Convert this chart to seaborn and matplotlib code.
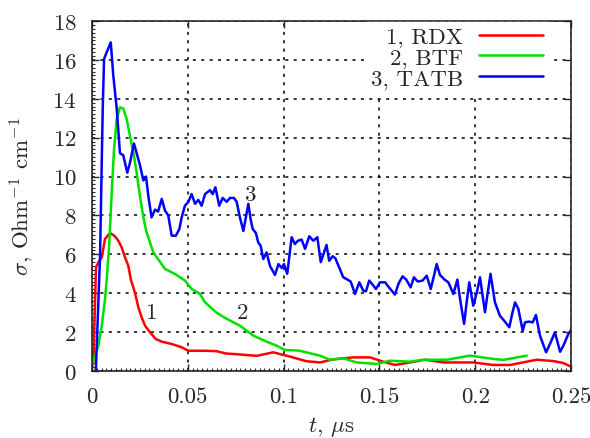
import numpy as np
import pandas as pd
import matplotlib
matplotlib.use("Agg")
import matplotlib.pyplot as plt
import seaborn as sns
from matplotlib.lines import Line2D

# ---- data ----
rdx_t = [0, 0.0007, 0.0021, 0.0033, 0.0051, 0.0068, 0.0094, 0.012, 0.0137, 0.0155, 0.0172, 0.0189,
         0.0204, 0.0216, 0.0228, 0.0242, 0.0259, 0.0277, 0.0303, 0.0332, 0.0364, 0.0416, 0.0468,
         0.0503, 0.059, 0.065, 0.07, 0.0772, 0.086, 0.0946, 0.103, 0.112, 0.119, 0.126, 0.1364,
         0.1451, 0.152, 0.1581, 0.166, 0.1738, 0.1834, 0.199, 0.2095, 0.2182, 0.2321, 0.2408,
         0.246, 0.25]
rdx_s = [0.2, 0.44, 5.33, 5.59, 5.85, 6.79, 7.1, 6.93, 6.7, 6.36, 5.85, 5.42, 4.65, 4.3, 3.87,
         3.27, 2.76, 2.33, 1.99, 1.65, 1.51, 1.39, 1.22, 1.04, 1.04, 1.02, 0.9, 0.85, 0.78, 0.96,
         0.75, 0.5, 0.44, 0.6, 0.7, 0.7, 0.48, 0.31, 0.44, 0.58, 0.44, 0.44, 0.31, 0.31, 0.58,
         0.51, 0.41, 0.22]

btf_t = [0, 0.0033, 0.0051, 0.0068, 0.0077, 0.009, 0.0103, 0.0115, 0.0129, 0.0146, 0.0163,
         0.0181, 0.0198, 0.0216, 0.0233, 0.025, 0.0268, 0.0285, 0.032, 0.0381, 0.0433, 0.0485,
         0.052, 0.0564, 0.059, 0.065, 0.07, 0.0772, 0.0842, 0.0911, 0.0964, 0.1007, 0.108, 0.119,
         0.1242, 0.1312, 0.1381, 0.1486, 0.1555, 0.166, 0.1729, 0.1851, 0.1973, 0.2095, 0.2147,
         0.2269]
btf_s = [0.3, 1.3, 2.33, 3.7, 4.73, 6.5, 9.2, 11.4, 12.96, 13.56, 13.5, 12.96, 12.1, 11.25, 10.2,
         9.0, 7.9, 7.13, 6.1, 5.25, 4.99, 4.65, 4.22, 3.96, 3.53, 3.0, 2.7, 2.33, 1.82, 1.51, 1.3,
         1.08, 1.05, 0.79, 0.58, 0.65, 0.44, 0.36, 0.53, 0.48, 0.58, 0.58, 0.79, 0.62, 0.57, 0.79]

tatb_t = [0.002, 0.0042, 0.0056, 0.0063, 0.0077, 0.0098, 0.0111, 0.0129, 0.0146, 0.0163, 0.0184,
          0.0198, 0.0219, 0.025, 0.0268, 0.0282, 0.0294, 0.0311, 0.0329, 0.0345, 0.0364, 0.0381,
          0.0398, 0.0416, 0.0438, 0.0456, 0.0468, 0.0485, 0.0503, 0.052, 0.0538, 0.0555, 0.0572,
          0.059, 0.0616, 0.063, 0.0644, 0.0664, 0.0682, 0.0703, 0.072, 0.0741, 0.0755, 0.0772,
          0.079, 0.0816, 0.0828, 0.0839, 0.0855, 0.0868, 0.088, 0.0894, 0.0911, 0.0929, 0.0955,
          0.0973, 0.099, 0.1002, 0.1019, 0.1042, 0.1059, 0.1075, 0.1094, 0.1112, 0.1134, 0.1155,
          0.1176, 0.1194, 0.1224, 0.1238, 0.1256, 0.127, 0.129, 0.1311, 0.1337, 0.135, 0.1373,
          0.1395, 0.1416, 0.143, 0.1447, 0.146, 0.1482, 0.1503, 0.153, 0.155, 0.1581, 0.16,
          0.1621, 0.164, 0.1663, 0.168, 0.170, 0.1725, 0.1747, 0.1768, 0.178, 0.1799, 0.1816,
          0.184, 0.186, 0.1886, 0.1907, 0.1921, 0.1942, 0.1955, 0.1969, 0.199, 0.201, 0.2025,
          0.2051, 0.2065, 0.208, 0.2103, 0.2129, 0.215, 0.2178, 0.2192, 0.2208, 0.2225, 0.2248,
          0.226, 0.2279, 0.23, 0.2317, 0.2338, 0.237, 0.2395, 0.2416, 0.2443, 0.246, 0.2486, 0.25]
tatb_s = [0, 5.9, 13.5, 16.05, 16.4, 16.9, 15.2, 13.5, 11.2, 11.1, 10.2, 10.7, 11.7, 10.6, 9.8,
          10.0, 9.0, 7.9, 8.3, 8.2, 8.85, 8.25, 8.0, 6.96, 6.96, 7.3, 7.9, 8.5, 8.7, 9.1, 8.6, 8.8,
          8.5, 9.1, 9.3, 9.1, 9.45, 8.5, 8.9, 8.7, 8.9, 8.9, 8.7, 7.9, 7.2, 8.6, 7.8, 7.3, 7.1,
          6.6, 6.45, 5.76, 6.1, 5.4, 4.94, 5.5, 5.3, 5.5, 5.0, 6.88, 6.53, 6.7, 6.76, 6.28, 6.93,
          6.7, 6.88, 5.6, 6.48, 5.67, 5.9, 5.8, 5.33, 4.82, 4.68, 4.6, 3.96, 4.56, 4.13, 4.1, 4.65,
          4.5, 4.22, 4.56, 4.56, 4.3, 3.93, 4.5, 4.87, 4.7, 4.3, 4.82, 4.6, 4.65, 4.9, 4.22, 4.7,
          5.5, 4.94, 4.7, 4.56, 3.96, 4.7, 3.7, 2.42, 3.5, 4.56, 3.36, 4.1, 4.82, 3.02, 4.0, 5.0,
          3.53, 2.84, 2.6, 2.25, 2.9, 3.53, 3.2, 2.07, 2.5, 2.54, 2.5, 2.88, 1.82, 0.96, 1.5,
          1.99, 0.99, 1.3, 1.9, 2.1]

series_names = ["1, RDX", "2, BTF", "3, TATB"]
series_colors = ["#ff0000", "#00e000", "#0000ff"]
curve_labels = ["1", "2", "3"]
curve_label_pos = [(0.0311, 3.0), (0.0788, 3.0), (0.0828, 9.1)]
x_ticks = [0, 0.05, 0.1, 0.15, 0.2, 0.25]
x_tick_labels = ["0", "0.05", "0.1", "0.15", "0.2", "0.25"]
y_ticks = list(range(0, 19, 2))

frames = []
for name, t, s in zip(series_names, [rdx_t, btf_t, tatb_t], [rdx_s, btf_s, tatb_s]):
    frames.append(pd.DataFrame({"t": t, "sigma": s, "series": name}))
df = pd.concat(frames, ignore_index=True)

sns.set_style("ticks")
plt.rcParams["font.family"] = ["cmr10", "DejaVu Serif"]
plt.rcParams["mathtext.fontset"] = "cm"
plt.rcParams["axes.formatter.use_mathtext"] = True

FS = 16.5
LW = 1.8

fig = plt.figure(figsize=(5.9, 4.39), dpi=100)
ax = fig.add_axes([92 / 590, 1 - 372 / 439, (571 - 92) / 590, (372 - 22) / 439])

ax.grid(True, color="black", linestyle=(0, (2, 3.5)), linewidth=1.1)
ax.set_axisbelow(True)

sns.lineplot(data=df, x="t", y="sigma", hue="series", hue_order=series_names,
             palette=series_colors, sort=False, estimator=None, units="series",
             linewidth=LW, ax=ax, legend=False, zorder=3)

ax.set_xlim(0, 0.25)
ax.set_ylim(0, 18)
ax.set_xticks(x_ticks)
ax.set_xticklabels(x_tick_labels)
ax.set_yticks(y_ticks)
ax.set_xticks(np.arange(0, 0.2501, 0.0025), minor=True)
ax.set_yticks(np.arange(0, 18.01, 0.2), minor=True)
ax.tick_params(which="major", direction="in", length=5, width=1, top=True, right=True,
               labelsize=FS)
ax.tick_params(axis="x", which="major", pad=11)
ax.tick_params(axis="y", which="major", pad=11)
ax.tick_params(which="minor", direction="in", length=2.5, width=0.8, top=False, right=False)
for sp in ax.spines.values():
    sp.set_linewidth(1.2)
    sp.set_zorder(5)

ax.set_xlabel(r"$t$, $\mu$s", fontsize=FS, labelpad=6)
ax.set_ylabel(r"$\sigma$, Ohm$^{-1}$ cm$^{-1}$", fontsize=FS, labelpad=12)

for lab, (tx, ty) in zip(curve_labels, curve_label_pos):
    ax.text(tx, ty, lab, fontsize=FS, ha="center", va="center", zorder=4)

handles = [Line2D([], [], color=c, linewidth=LW) for c in series_colors]
leg = ax.legend(handles, series_names, loc="upper right", markerfirst=False,
                bbox_to_anchor=(548 / 590, (439 - 23) / 439), bbox_transform=fig.transFigure,
                fontsize=FS, frameon=True, handlelength=2.8, handletextpad=0.7,
                labelspacing=0.02, borderpad=0.2, borderaxespad=0.0, facecolor="white",
                edgecolor="white", framealpha=1.0, fancybox=False)
leg._legend_box.align = "right"
for txt in leg.get_texts():
    txt.set_ha("right")
leg.set_zorder(6)

fig.savefig("out.png", dpi=100)
